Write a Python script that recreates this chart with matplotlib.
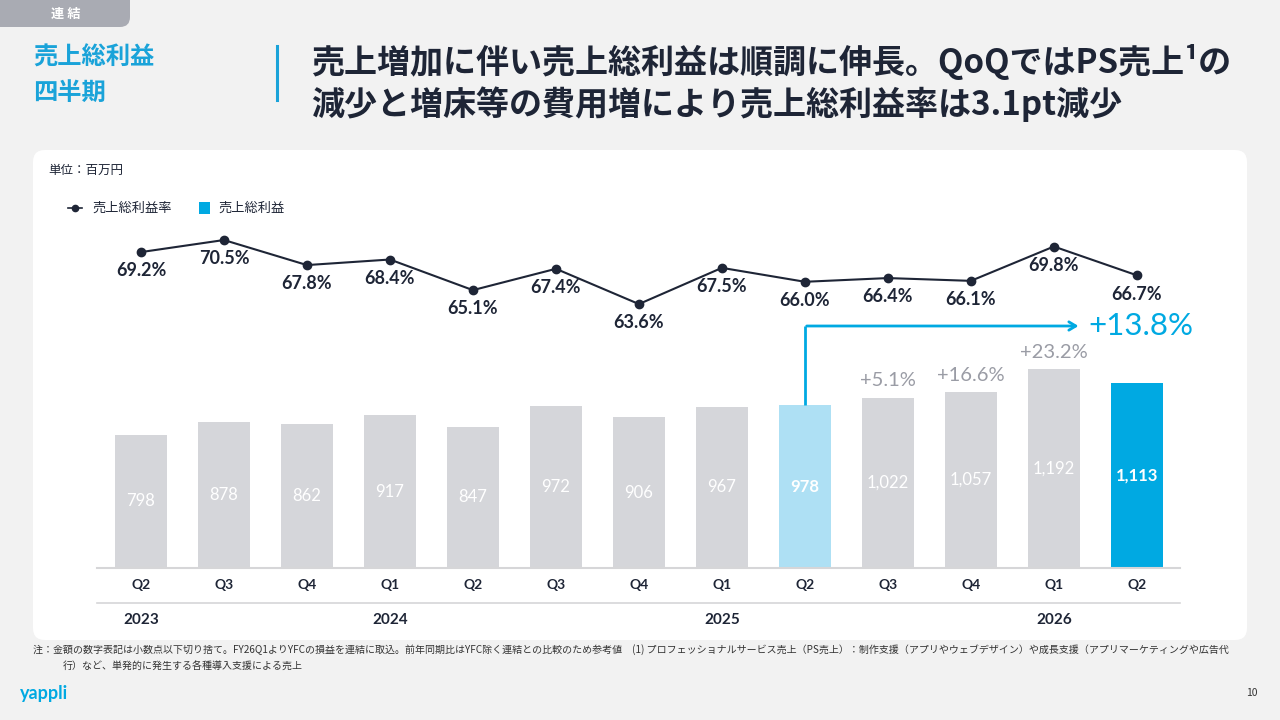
import matplotlib
matplotlib.use("Agg")
import matplotlib.pyplot as plt
from matplotlib.patches import FancyBboxPatch, Rectangle

plt.rcParams['font.family'] = ['Noto Sans CJK JP', 'DejaVu Sans']

# data
quarters = ["Q2", "Q3", "Q4", "Q1", "Q2", "Q3", "Q4", "Q1", "Q2", "Q3", "Q4", "Q1", "Q2"]
gross_profit = [798, 878, 862, 917, 847, 972, 906, 967, 978, 1022, 1057, 1192, 1113]
margin = [69.2, 70.5, 67.8, 68.4, 65.1, 67.4, 63.6, 67.5, 66.0, 66.4, 66.1, 69.8, 66.7]
years = ["2023", "2024", "2025", "2026"]
year_idx = [0, 3, 7, 11]
yoy_idx = [9, 10, 11]
yoy_labels = ["+5.1%", "+16.6%", "+23.2%"]
highlight_label = "+13.8%"

NAVY = "#1e2536"
BLUE = "#00a9e2"
LIGHTBLUE = "#aee0f4"
GRAY = "#d5d6da"
BG = "#f2f2f2"
NUM = ['Lato', 'Noto Sans CJK JP']

fig = plt.figure(figsize=(12.8, 7.2), dpi=100)
fig.patch.set_facecolor(BG)

# overlay in pixel coords
bg = fig.add_axes([0, 0, 1, 1])
bg.set_xlim(0, 1280)
bg.set_ylim(720, 0)
bg.axis("off")

bg.add_patch(FancyBboxPatch((-20, -20), 150, 47, boxstyle="round,pad=0,rounding_size=10",
                            fc="#a9abb3", ec="none"))
bg.text(66, 14, "連 結", color="white", fontsize=9.5, weight="bold", ha="center", va="center")
bg.text(33, 58, "売上総利益", color="#1aa3d9", fontsize=17.5, weight="bold", va="center")
bg.text(33, 93, "四半期", color="#1aa3d9", fontsize=17.5, weight="bold", va="center")
bg.plot([277, 277], [46, 100], color="#1aa3d9", lw=2.2)
bg.text(311, 62, "売上増加に伴い売上総利益は順調に伸長。QoQではPS売上¹の", color=NAVY,
        fontsize=23.8, weight="bold", va="center")
bg.text(311, 104, "減少と増床等の費用増により売上総利益率は3.1pt減少", color=NAVY,
        fontsize=23.8, weight="bold", va="center")

bg.add_patch(FancyBboxPatch((33, 150), 1214, 490, boxstyle="round,pad=0,rounding_size=12",
                            fc="white", ec="none"))
bg.text(48, 170, "単位：百万円", color=NAVY, fontsize=9, va="center")

# legend
bg.plot([68, 82], [208, 208], color=NAVY, lw=1.2)
bg.plot([75], [208], "o", color=NAVY, ms=4.5)
bg.text(92, 208, "売上総利益率", color=NAVY, fontsize=9.5, va="center")
bg.add_patch(Rectangle((199, 202), 11, 12, fc=BLUE, ec="none"))
bg.text(218, 208, "売上総利益", color=NAVY, fontsize=9.5, va="center")

bg.text(33, 650, "注：金額の数字表記は小数点以下切り捨て。FY26Q1よりYFCの損益を連結に取込。前年同期比はYFC除く連結との比較のため参考値　(1) プロフェッショナルサービス売上（PS売上）：制作支援（アプリやウェブデザイン）や成長支援（アプリマーケティングや広告代",
        color="#333333", fontsize=7.2, va="center")
bg.text(63, 667, "行）など、単発的に発生する各種導入支援による売上", color="#333333", fontsize=7.2, va="center")
bg.text(20, 693, "yappli", color=BLUE, fontsize=13, weight="bold", va="center", family=NUM)
bg.text(1258, 693, "10", color="#333333", fontsize=7.5, ha="right", va="center")

# chart axes
L, R, T, B = 97, 1180, 230, 568
ax = fig.add_axes([L / 1280, (720 - B) / 720, (R - L) / 1280, (B - T) / 720])
ax.patch.set_alpha(0)
ax.set_xlim(-0.53, 12.52)
ax.set_ylim(0, 2028)
for s in ax.spines.values():
    s.set_visible(False)
ax.set_xticks([])
ax.set_yticks([])

x = list(range(len(quarters)))
colors = [GRAY] * len(x)
colors[-5] = LIGHTBLUE
colors[-1] = BLUE
ax.bar(x, gross_profit, width=0.63, color=colors, zorder=2)
for i, v in enumerate(gross_profit):
    ax.text(i, v / 2, f"{v:,}", color="white", fontsize=12, ha="center", va="center",
            family=NUM, weight="normal" if colors[i] == GRAY else "bold", zorder=3)
for i, lab in zip(yoy_idx, yoy_labels):
    ax.annotate(lab, (i, gross_profit[i]), xytext=(0, 12), textcoords="offset points",
                ha="center", va="center", color="#9a9ca5", fontsize=14.5, family=NUM)

# highlight arrow
src = len(x) - 5
top = 1452
ax.plot([src, src], [gross_profit[src], top], color=BLUE, lw=2, solid_capstyle="butt", zorder=4)
ax.annotate("", xy=(11.33, top), xytext=(src - 0.012, top),
            arrowprops=dict(arrowstyle="->,head_length=0.5,head_width=0.3", color=BLUE, lw=2))
ax.text(11.42, top, highlight_label, color=BLUE, fontsize=22.5, ha="left", va="center",
        family=NUM)

# base lines and labels
ax.plot([0, 1], [0, 0], transform=ax.transAxes, color="#d6d6d8", lw=1.5, clip_on=False, zorder=3)
ax.plot([0, 1], [-35 / 338, -35 / 338], transform=ax.transAxes, color="#d6d6d8", lw=1.2, clip_on=False)
xt = ax.get_xaxis_transform()
for i, q in enumerate(quarters):
    ax.text(i, -17 / 338, q, transform=xt, ha="center", va="center", color=NAVY,
            fontsize=10, weight="bold", family=NUM)
for i, y in zip(year_idx, years):
    ax.text(i, -52 / 338, y, transform=xt, ha="center", va="center", color=NAVY,
            fontsize=11, weight="bold", family=NUM)

# margin line
ax2 = ax.twinx()
ax2.set_ylim(35.16, 71.58)
ax2.axis("off")
ax2.plot(x, margin, color=NAVY, lw=1.5, marker="o", ms=6, zorder=5)
for i, m in enumerate(margin):
    ax2.annotate(f"{m:.1f}%", (i, m), xytext=(0, -13.5), textcoords="offset points",
                 ha="center", va="center", color=NAVY, fontsize=13, weight="bold", family=NUM)

fig.savefig("out.png", dpi=100, facecolor=fig.get_facecolor())
